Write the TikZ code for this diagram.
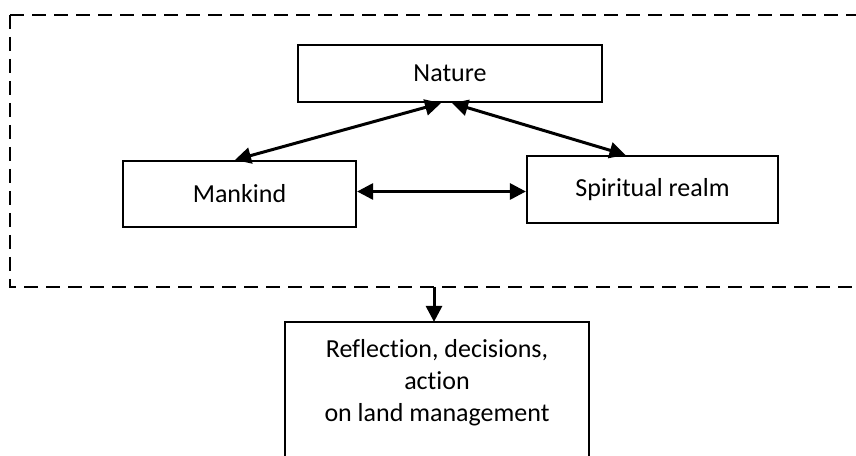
\documentclass[tikz,border=0pt]{standalone}
\usepackage{fontspec}
\setmainfont{Carlito}[Ligatures={NoCommon,NoRare,NoContextual}]
\usetikzlibrary{arrows.meta}

\begin{document}
\begin{tikzpicture}[x=0.5pt,y=0.5pt,
  box/.style={draw=black,line width=1.1pt,inner sep=0pt,font=\fontsize{13}{16}\selectfont},
  link/.style={line width=1.5pt,{Triangle[length=8pt,width=8pt]}-{Triangle[length=8pt,width=8pt]}},
  feed/.style={line width=1.5pt,-{Triangle[length=8pt,width=8pt]}},
  frame/.style={line width=1.1pt,dash pattern=on 7pt off 4pt}]
\path[use as bounding box] (0,0) rectangle (856,455);
\clip (0,0) rectangle (856,455);

% dashed frame round the three spheres
\draw[frame] (10,440) -- (880,440);
\draw[frame] (10,440) -- (10,168) -- (880,168);
\coordinate (framebot) at (434,168);

\node[box,minimum width=152pt,minimum height=28.5pt] (nature) at (450,381.5) {Nature};

\node[box,minimum width=116.5pt,minimum height=33pt] (mankind) at (239.5,261) {Mankind};

\node[box,minimum width=125.5pt,minimum height=33.5pt] (spiritual) at (652.5,265.5) {Spiritual realm};

\node[box,draw=none,align=center,minimum width=151pt,minimum height=60pt] (act) at (437,72)
  {Reflection, decisions,\\action\\on land management};
\draw[line width=1.1pt] ([yshift=-20pt]act.south west) -- (act.north west) --
  (act.north east) -- ([yshift=-20pt]act.south east);

\draw[link] ([xshift=-2.25pt]mankind.north) -- ([xshift=-4.5pt]nature.south);
\draw[link] ([xshift=1pt]nature.south) -- ([xshift=-13.5pt]spiritual.north);
\draw[link] ([yshift=1.25pt]mankind.east) -- ([yshift=1.25pt]mankind.east -| spiritual.west);

\draw[feed] (framebot) -- (framebot |- act.north);
\end{tikzpicture}
\end{document}
